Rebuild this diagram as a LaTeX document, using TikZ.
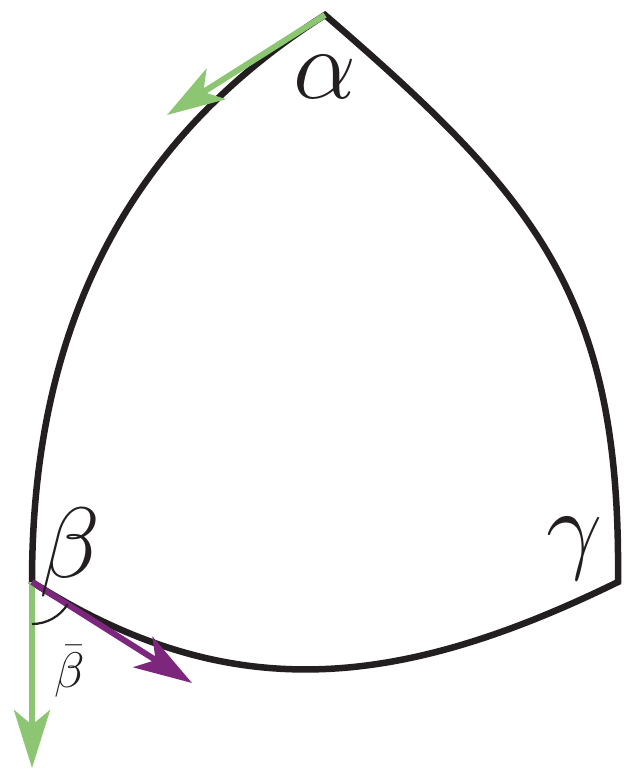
\RequirePackage{fix-cm}
\documentclass[tikz,border=0pt]{standalone}
\usepackage{tikz}
\usetikzlibrary{arrows.meta}
\definecolor{leafgreen}{RGB}{141,198,114}
\definecolor{plum}{RGB}{125,38,125}
\definecolor{inkblack}{RGB}{35,31,32}

\begin{document}
\begin{tikzpicture}[x=1pt, y=-1pt,
    vec/.style={-{Stealth[length=58pt, width=36pt, inset=15pt]}, line width=6pt},
    side/.style={inkblack, line width=6.5pt, line join=miter},
    bigsym/.style={inner sep=0pt, anchor=base, text=inkblack, font=\fontsize{100}{120}\selectfont}]
  % Frame with the reference proportions
  \useasboundingbox (0,0) rectangle (623,770);

  % Corners of the triangle
  \coordinate (A) at (325,15);
  \coordinate (B) at (32,582);
  \coordinate (C) at (618,582);

  % Ends of the vectors
  \coordinate (Atip) at (167,115);
  \coordinate (Bdown) at (32,768);
  \coordinate (Bside) at (192,683);

  % Curved sides
  \draw[side] (A) .. controls (114,149) and (32,345) .. (B)
    .. controls (226,705) and (393,692) .. (C)
    .. controls (621,297) and (537,198) .. cycle;

  % Tangent vectors
  \draw[vec, leafgreen] (A) -- (Atip);
  \draw[vec, leafgreen] (B) -- (Bdown);
  \draw[vec, plum] (B) -- (Bside);

  % Angle mark at beta
  \draw[inkblack, line width=2.2pt] (B) ++(90:42) arc[start angle=90, end angle=32, radius=42];

  % Vertex labels
  \node[bigsym] (alpha) at (325,99) {$\alpha$};
  \node[bigsym] (beta) at (70,577) {$\beta$};
  \node[bigsym] (gamma) at (575,560) {$\gamma$};
  \node[bigsym, font=\fontsize{50}{60}\selectfont] (betabar) at (70,687) {$\bar{\beta}$};
\end{tikzpicture}
\end{document}
